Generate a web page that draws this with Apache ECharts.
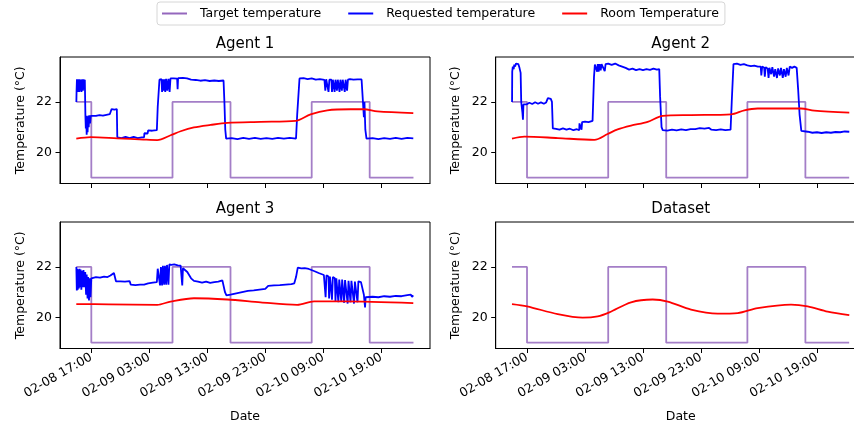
<!DOCTYPE html>
<html><head><meta charset="utf-8">
<script src="https://cdn.jsdelivr.net/npm/echarts@6/dist/echarts.min.js"></script>
<style>html,body{margin:0;padding:0;background:#fff}#c{width:854px;height:427px}</style>
</head><body><div id="c"></div>
<script>
// hours since 02-08 00:00
const tickHours = [17, 27, 37, 47, 57, 67];
const tickLabels = ['02-08 17:00', '02-09 03:00', '02-09 13:00', '02-09 23:00', '02-10 09:00', '02-10 19:00'];
const yTicks = [20, 22];
const panelTitles = ['Agent 1', 'Agent 2', 'Agent 3', 'Dataset'];
const seriesNames = ['Target temperature', 'Requested temperature', 'Room Temperature'];

const targetTemp = [[14.41,22],[17,19],[31,22],[41,19],[55,22],[65,19],[72.55,19]];

const agent1Requested = [[14.42,22.0],[14.46,22.45],[14.52,22.9],[14.6,22.4],[14.68,22.9],[14.76,22.45],[14.84,22.9],[14.92,22.4],[15.0,22.9],[15.1,22.45],[15.2,22.88],[15.3,22.4],[15.42,22.9],[15.55,22.45],[15.68,22.9],[15.8,22.5],[15.88,22.88],
[15.98,21.45],[16.05,20.95],[16.12,21.45],[16.2,20.7],[16.28,21.4],[16.36,20.8],[16.45,21.45],[16.55,21.0],[16.65,21.47],[16.78,21.15],[16.9,21.45],[17.2,21.47],[17.8,21.45],[18.4,21.48],[19.0,21.46],[19.6,21.49],[20.2,21.52],[20.45,21.52],[20.5,21.72],[21.0,21.7],[21.4,21.72],[21.48,20.6],[22.2,20.57],[22.9,20.62],[23.6,20.57],[24.3,20.62],[25.0,20.57],[25.7,20.6],[26.1,20.6],[26.15,20.76],[26.7,20.75],[26.8,20.87],[27.5,20.86],[28.3,20.88],[28.45,21.8],[28.75,22.88],[29.1,22.9],[29.2,22.4],[29.3,22.9],[29.45,22.45],[29.6,22.9],[29.75,22.4],[29.9,22.92],[30.1,22.45],[30.3,22.92],[30.5,22.4],[30.65,22.93],[31.2,22.93],[31.8,22.92],[31.88,22.5],[31.96,22.94],[32.8,22.95],[33.5,22.93],[34.2,22.88],[35.0,22.87],[35.8,22.84],[36.6,22.86],[37.4,22.83],[38.2,22.85],[39.0,22.83],[39.8,22.85],[39.95,22.0],[40.1,20.9],[40.25,20.55],[41.2,20.57],[42.2,20.53],[43.2,20.58],[44.2,20.54],[45.2,20.58],[46.2,20.54],[47.2,20.57],[48.2,20.54],[49.2,20.58],[50.2,20.55],[51.2,20.58],[52.3,20.55],[52.5,21.5],[52.9,22.93],[53.6,22.94],[54.3,22.9],[55.0,22.93],[55.7,22.88],[56.4,22.9],[57.2,22.87],[57.35,22.45],[57.5,22.9],[57.8,22.87],[57.9,22.4],[58.05,22.88],[58.4,22.88],[58.5,22.4],[58.65,22.88],[58.95,22.4],[59.1,22.88],[59.35,22.45],[59.5,22.88],[59.8,22.4],[59.95,22.88],[60.2,22.45],[60.35,22.88],[60.7,22.4],[60.85,22.88],[61.1,22.45],[61.25,22.88],[61.6,22.9],[62.2,22.88],[62.9,22.89],[63.6,22.89],[63.85,22.88],[64.0,21.4],[64.1,22.0],[64.25,20.9],[64.45,20.55],[65.5,20.57],[66.5,20.53],[67.5,20.57],[68.5,20.54],[69.5,20.58],[70.5,20.54],[71.5,20.58],[72.52,20.56]];
const agent1Room = [[14.41,20.55],[16.88,20.61],[21.48,20.56],[26.0,20.51],[28.37,20.49],[30.67,20.68],[32.4,20.84],[34.69,20.99],[37.57,21.09],[40.44,21.17],[46.19,21.21],[52.22,21.25],[54.81,21.51],[57.69,21.67],[61.71,21.71],[64.0,21.71],[66.31,21.63],[72.52,21.56]];

const agent2Requested = [[14.42,22.0],[14.45,23.2],[14.55,23.4],[14.7,23.3],[14.8,23.48],[14.95,23.4],[15.1,23.52],[15.3,23.45],[15.5,23.5],[15.7,23.35],[15.9,23.15],[16.0,22.0],[16.1,21.95],[16.2,21.6],[16.3,21.3],[16.38,21.9],[16.5,21.95],[16.9,21.9],[17.4,21.97],[17.9,21.92],[18.4,21.99],[18.9,21.93],[19.4,21.98],[19.9,21.93],[20.3,21.98],[20.6,22.15],[20.85,22.2],[21.1,22.12],[21.3,22.0],[21.45,20.95],[22.0,20.93],[22.6,20.9],[23.2,20.95],[23.8,20.9],[24.4,20.94],[25.0,20.88],[25.6,20.92],[26.0,20.88],[26.05,21.15],[26.3,21.2],[26.4,20.9],[26.5,21.2],[27.0,21.22],[27.6,21.2],[28.3,21.25],[28.55,23.0],[28.7,23.48],[29.0,23.5],[29.1,23.2],[29.2,23.5],[29.35,23.2],[29.5,23.5],[29.7,23.25],[29.85,23.5],[30.1,23.48],[30.4,23.22],[30.55,23.5],[31.0,23.52],[31.6,23.47],[32.2,23.52],[32.8,23.45],[33.4,23.4],[34.0,23.35],[34.6,23.28],[35.2,23.32],[35.8,23.26],[36.4,23.3],[37.0,23.26],[37.6,23.3],[38.2,23.27],[38.8,23.32],[39.4,23.28],[39.8,23.3],[39.95,22.2],[40.2,21.0],[40.4,20.88],[41.2,20.86],[42.0,20.9],[42.8,20.87],[43.6,20.91],[44.4,20.88],[45.2,20.92],[46.0,20.92],[46.8,20.96],[47.6,20.94],[48.4,20.97],[48.8,20.9],[49.6,20.88],[50.4,20.91],[51.2,20.88],[52.1,20.9],[52.3,22.0],[52.6,23.5],[53.2,23.52],[53.8,23.47],[54.4,23.5],[55.0,23.45],[55.6,23.42],[56.2,23.44],[56.8,23.4],[57.3,23.4],[57.4,23.05],[57.55,23.4],[57.9,23.35],[58.0,23.0],[58.15,23.38],[58.5,23.32],[58.65,22.95],[58.8,23.35],[59.1,23.1],[59.3,23.38],[59.6,23.0],[59.8,23.3],[60.1,22.95],[60.3,23.33],[60.6,23.05],[60.8,23.35],[61.1,22.95],[61.3,23.3],[61.6,23.0],[61.8,23.35],[62.1,23.05],[62.3,23.4],[62.7,23.35],[63.1,23.4],[63.5,23.35],[63.75,22.5],[64.0,21.5],[64.3,20.85],[64.6,20.8],[65.4,20.82],[66.2,20.78],[67.0,20.8],[67.8,20.77],[68.6,20.8],[69.4,20.78],[70.2,20.81],[71.0,20.8],[71.8,20.83],[72.57,20.82]];
const agent2Room = [[14.41,20.55],[16.54,20.63],[22.29,20.57],[28.61,20.5],[30.9,20.73],[32.63,20.91],[34.93,21.06],[37.8,21.21],[40.4,21.45],[45.28,21.48],[52.17,21.51],[54.47,21.67],[56.77,21.74],[64.24,21.74],[66.54,21.66],[72.57,21.58]];

const agent3Requested = [[14.42,22.0],[14.5,21.07],[14.58,21.93],[14.66,21.1],[14.75,21.9],[14.85,21.15],[14.95,21.93],[15.05,21.2],[15.15,21.9],[15.28,21.1],[15.4,21.85],[15.52,21.2],[15.65,21.88],[15.8,21.2],[15.95,21.8],[16.1,20.9],[16.2,21.7],[16.35,20.75],[16.45,21.6],[16.6,20.67],[16.72,21.55],[16.85,20.8],[17.0,21.55],[17.2,21.58],[17.8,21.6],[18.5,21.58],[19.2,21.62],[19.8,21.6],[20.3,21.66],[20.6,21.73],[20.9,21.76],[21.1,21.72],[21.25,21.43],[22.0,21.43],[22.8,21.42],[23.6,21.44],[23.8,21.3],[24.6,21.28],[25.4,21.3],[26.1,21.3],[26.8,21.35],[27.6,21.38],[28.3,21.4],[28.45,21.93],[28.7,21.96],[28.85,21.27],[29.0,22.0],[29.2,21.27],[29.35,22.05],[29.55,21.3],[29.7,22.05],[29.9,21.3],[30.05,22.08],[30.3,21.3],[30.45,22.1],[30.8,22.08],[31.3,22.1],[31.9,22.06],[32.4,22.05],[32.62,21.98],[32.68,21.27],[32.8,21.95],[33.0,21.95],[33.55,21.8],[34.2,21.55],[34.7,21.45],[35.4,21.42],[36.1,21.38],[36.8,21.42],[37.5,21.37],[38.2,21.4],[38.9,21.42],[39.6,21.47],[39.85,21.4],[40.05,21.0],[40.3,20.87],[41.0,20.9],[42.0,20.95],[43.0,21.0],[44.0,21.05],[45.0,21.07],[46.0,21.1],[47.0,21.13],[47.34,21.15],[47.5,21.25],[48.5,21.27],[49.5,21.28],[50.5,21.3],[51.5,21.32],[52.0,21.35],[52.3,21.6],[52.6,21.97],[53.2,21.94],[53.8,21.95],[54.5,21.92],[54.8,21.9],[55.5,21.83],[56.2,21.76],[57.1,21.68],[57.4,20.8],[57.55,21.67],[57.9,21.62],[58.0,20.75],[58.15,21.62],[58.4,21.6],[58.5,20.7],[58.65,21.6],[59.0,21.55],[59.1,20.65],[59.25,21.55],[59.6,20.6],[59.75,21.5],[60.1,20.62],[60.25,21.5],[60.6,20.58],[60.75,21.48],[61.2,20.55],[61.35,21.45],[61.7,20.6],[61.85,21.45],[62.3,20.55],[62.45,21.42],[62.9,20.6],[63.05,21.43],[63.5,21.4],[63.8,21.35],[64.0,20.9],[64.2,20.4],[64.3,20.8],[64.6,20.8],[65.5,20.82],[66.5,20.8],[67.5,20.84],[68.5,20.82],[69.5,20.85],[70.5,20.84],[71.5,20.88],[72.1,20.9],[72.3,20.82],[72.52,20.87]];
const agent3Room = [[14.41,20.53],[20.0,20.52],[28.37,20.5],[30.67,20.63],[34.7,20.76],[40.44,20.71],[46.19,20.6],[52.5,20.5],[55.4,20.64],[60.6,20.64],[72.52,20.57]];

const datasetRoom = [[14.41,20.53],[17.0,20.44],[22.29,20.13],[26.6,19.99],[29.19,20.04],[31.19,20.2],[34.93,20.6],[38.67,20.71],[41.26,20.63],[45.28,20.31],[49.87,20.15],[53.32,20.17],[56.77,20.37],[62.52,20.51],[65.39,20.44],[68.84,20.23],[72.57,20.09]];

const panelRequested = [agent1Requested, agent2Requested, agent3Requested, null];
const panelRoom = [agent1Room, agent2Room, agent3Room, datasetRoom];

const FONT = 'DejaVu Sans';
const grids = [
  {left: 60, top: 57, width: 370, height: 126.5},
  {left: 495.7, top: 57, width: 370, height: 126.5},
  {left: 60, top: 222, width: 370, height: 126.5},
  {left: 495.7, top: 222, width: 370, height: 126.5}
];
const xMin = 11.6, xMax = 75.4, yMin = 18.77, yMax = 23.78;

const option = {
  animation: false,
  textStyle: {fontFamily: FONT},
  title: panelTitles.map((t, i) => ({
    text: t, left: grids[i].left + grids[i].width / 2, top: grids[i].top - 20,
    textAlign: 'center', padding: 0,
    textStyle: {fontSize: 15, fontWeight: 'normal', color: '#000', fontFamily: FONT}
  })),
  legend: {
    data: seriesNames, left: 157, top: 2, icon: 'rect', itemWidth: 25, itemHeight: 2,
    itemGap: 27, padding: [5, 6, 5, 5], borderColor: '#d6d6d6', borderWidth: 1, borderRadius: 3,
    textStyle: {fontSize: 12.5, color: '#000', fontFamily: FONT, padding: [0, 0, 0, 8]}
  },
  grid: grids.map(g => Object.assign({show: true, borderColor: '#000', borderWidth: 1,
    containLabel: false, outerBoundsMode: 'none'}, g)),
  xAxis: grids.map((g, i) => ({
    type: 'value', gridIndex: i, min: xMin, max: xMax,
    name: i >= 2 ? 'Date' : '', nameLocation: 'middle', nameGap: 62,
    nameTextStyle: {fontSize: 12.5, color: '#000', fontFamily: FONT},
    axisLine: {show: true, lineStyle: {color: '#000', width: 1}},
    axisTick: {show: true, customValues: tickHours, length: 4.5, lineStyle: {color: '#000'}},
    axisLabel: {show: i >= 2, customValues: tickHours, rotate: 30, margin: 8, fontSize: 12.5, color: '#000', fontFamily: FONT,
      formatter: v => tickLabels[tickHours.indexOf(Math.round(v))] || ''},
    splitLine: {show: false}
  })),
  yAxis: grids.map((g, i) => ({
    type: 'value', gridIndex: i, min: yMin, max: yMax,
    name: 'Temperature (°C)', nameLocation: 'middle', nameGap: 33,
    nameTextStyle: {fontSize: 12.5, color: '#000', fontFamily: FONT},
    axisLine: {show: true, lineStyle: {color: '#000', width: 1}},
    axisTick: {show: true, customValues: yTicks, length: 4.5, lineStyle: {color: '#000'}},
    axisLabel: {customValues: yTicks, margin: 8, fontSize: 12.5, color: '#000', fontFamily: FONT},
    splitLine: {show: false}
  })),
  series: []
};

panelTitles.forEach((t, i) => {
  option.series.push({
    name: seriesNames[0], type: 'line', xAxisIndex: i, yAxisIndex: i, data: targetTemp,
    step: 'end', symbol: 'none', color: '#9467bd',
    lineStyle: {color: '#9467bd', width: 1.8, opacity: 0.85}, z: 2
  });
  if (panelRequested[i]) option.series.push({
    name: seriesNames[1], type: 'line', xAxisIndex: i, yAxisIndex: i, data: panelRequested[i],
    symbol: 'none', color: '#0000ff', lineStyle: {color: '#0000ff', width: 1.8}, z: 3
  });
  option.series.push({
    name: seriesNames[2], type: 'line', xAxisIndex: i, yAxisIndex: i, data: panelRoom[i],
    symbol: 'none', smooth: 0.3, color: '#ff0000', lineStyle: {color: '#ff0000', width: 1.8}, z: 4
  });
});

const chart = echarts.init(document.getElementById('c'), null, {renderer: 'canvas'});
chart.setOption(option);
</script></body></html>
